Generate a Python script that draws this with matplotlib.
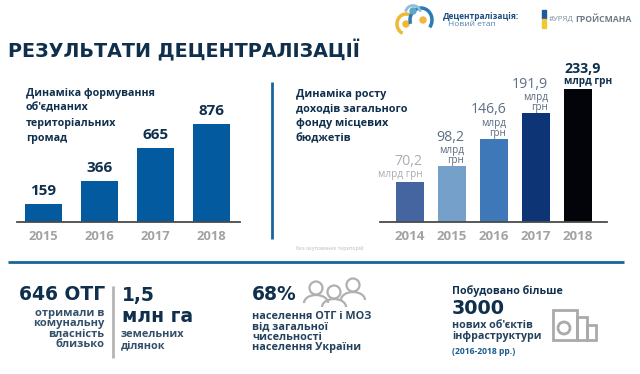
import matplotlib
matplotlib.use("Agg")
import matplotlib.pyplot as plt
from matplotlib.patches import Rectangle, Circle, Arc

plt.rcParams['font.family'] = ['Open Sans', 'DejaVu Sans']

# Дані
roky_otg = ['2015', '2016', '2017', '2018']
otg = [159, 366, 665, 876]

roky_dohody = ['2014', '2015', '2016', '2017', '2018']
dohody = [70.2, 98.2, 146.6, 191.9, 233.9]
dohody_text = ['70,2', '98,2', '146,6', '191,9', '233,9']
dohody_odyn = ['млрд грн', 'млрд\nгрн', 'млрд\nгрн', 'млрд\nгрн', 'млрд грн']
kolory = ['#44659f', '#74a0c9', '#3f78b8', '#0d3474', '#02040a']

NAVY = '#0f2f4d'
BLUE = '#045a9e'
GREY = '#a3a3a3'
LINE = '#16669a'
HEAVY = ['DejaVu Sans']

W, H = 640, 374
fig = plt.figure(figsize=(W / 100, H / 100), dpi=100, facecolor='white')


def px_axes(x0, x1, y_top, y_bottom):
    return fig.add_axes([x0 / W, 1 - y_bottom / H, (x1 - x0) / W, (y_bottom - y_top) / H])


# Полотно в пікселях для написів та іконок
bg = fig.add_axes([0, 0, 1, 1])
bg.set_xlim(0, W)
bg.set_ylim(H, 0)
bg.axis('off')

# ======================
# Ліва діаграма
# ======================
ax1 = px_axes(17, 240, 80, 222)
ax1.patch.set_alpha(0)
ax1.bar(range(4), otg, width=0.66, color=BLUE)
ax1.set_xlim(-0.473, 3.51)
ax1.set_ylim(0, 1268)
ax1.set_xticks(range(4), roky_otg, fontsize=9.4, fontweight='bold', color=GREY)
ax1.set_yticks([])
ax1.tick_params(axis='x', length=0, pad=6)
for s in ['top', 'left', 'right']:
    ax1.spines[s].set_visible(False)
ax1.spines['bottom'].set_color('#4a4a4a')
ax1.spines['bottom'].set_linewidth(1.3)
for i, v in enumerate(otg):
    ax1.annotate(str(v), (i, v), xytext=(0, 4.3), textcoords='offset points', ha='center',
                 va='bottom', fontsize=11, fontweight='bold', color=NAVY)

# ======================
# Права діаграма
# ======================
ax2 = px_axes(380, 607, 60, 222)
ax2.patch.set_alpha(0)
ax2.bar(range(5), dohody, width=0.68, color=kolory)
ax2.set_xlim(-0.714, 4.69)
ax2.set_ylim(0, 162 / 0.5686)
ax2.set_xticks(range(5), roky_dohody, fontsize=9.6, fontweight='bold', color=GREY)
ax2.set_yticks([])
ax2.tick_params(axis='x', length=0, pad=6)
for s in ['top', 'left', 'right']:
    ax2.spines[s].set_visible(False)
ax2.spines['bottom'].set_color('#4a4a4a')
ax2.spines['bottom'].set_linewidth(1.3)

kolir_text = ['#a9adb3', '#5d6f83', '#5d6f83', '#5d6f83', NAVY]
for i, v in enumerate(dohody):
    lines = dohody_odyn[i].count('\n') + 1
    if i == 4:
        ha, dx = 'left', -10
    else:
        ha, dx = 'right', 8.8
    dy = 0 if lines == 2 else 1.5
    bold = 'bold' if i == 4 else 'normal'
    ax2.annotate(dohody_odyn[i], (i, v), xytext=(dx, dy), textcoords='offset points',
                 ha=ha, va='bottom', fontsize=7.2, fontweight=bold, color=kolir_text[i],
                 linespacing=0.85)
    ax2.annotate(dohody_text[i], (i, v), xytext=(dx, dy + lines * 7.4 + 0.5), textcoords='offset points',
                 ha=ha, va='bottom', fontsize=10.2, fontweight=bold, color=kolir_text[i])

# ======================
# Заголовок і підписи
# ======================
bg.text(8, 50, 'РЕЗУЛЬТАТИ ДЕЦЕНТРАЛІЗАЦІЇ', fontsize=13.8, fontweight='bold', family=HEAVY,
        color=NAVY, va='center', ha='left')
# Окремі рядки, щоб блок не наїжджав на підписи стовпців
for k, rjadok in enumerate(['Динаміка формування', 'об\'єднаних', 'територіальних', 'громад']):
    bg.text(26, 93 + k * 15, rjadok, fontsize=7.7, fontweight='bold', color=NAVY, va='center')
for k, rjadok in enumerate(['Динаміка росту', 'доходів загального', 'фонду місцевих', 'бюджетів']):
    bg.text(296, 94 + k * 14.8, rjadok, fontsize=7.8, fontweight='bold', color=NAVY, va='center')
bg.text(296, 248, 'без окупованих територій', fontsize=3.8, color='#b4bcc4', va='center')

# Лінії-розділювачі
bg.plot([272, 272], [82, 239], color=LINE, lw=2, solid_capstyle='butt')
bg.plot([8, 624], [262, 262], color=LINE, lw=2, solid_capstyle='butt')
bg.plot([113, 113], [286, 358], color='#b5b5b5', lw=2, solid_capstyle='butt')

# ======================
# Нижній блок
# ======================
bg.text(105, 295, '646 ОТГ', fontsize=13.5, fontweight='bold', family=HEAVY, color=NAVY, ha='right', va='center')
bg.text(104.5, 329, 'отримали в\nкомунальну\nвласність\nблизько', fontsize=8, fontweight='bold',
        color='#33506b', ha='right', va='center', linespacing=0.92)
bg.text(122, 295, '1,5', fontsize=13.5, fontweight='bold', family=HEAVY, color=NAVY, va='center')
bg.text(122, 316, 'млн га', fontsize=13.5, fontweight='bold', family=HEAVY, color=NAVY, va='center')
bg.text(121, 340, 'земельних\nділянок', fontsize=7.8, fontweight='bold', color='#33506b', va='center',
        linespacing=1.12)

bg.text(252, 295, '68%', fontsize=13.5, fontweight='bold', family=HEAVY, color=NAVY, va='center')
bg.text(252, 332, 'населення ОТГ і МОЗ\nвід загальної\nчисельності\nнаселення України', fontsize=7.8,
        fontweight='bold', color='#24415e', va='center', linespacing=0.92)

bg.text(452, 291, 'Побудовано більше', fontsize=7.7, fontweight='bold', color=NAVY, va='center')
bg.text(452, 308, '3000', fontsize=13.8, fontweight='bold', family=HEAVY, color=NAVY, va='center')
bg.text(452, 331, 'нових об\'єктів\nінфраструктури', fontsize=7.7, fontweight='bold', color='#24415e',
        va='center', linespacing=0.92)
bg.text(452, 352, '(2016-2018 рр.)', fontsize=6.2, fontweight='bold', color='#1b5c8c', va='center')

# Іконка людей
for cx, cy in [(316, 288), (334, 292), (353, 285)]:
    bg.add_patch(Circle((cx, cy), 6.5, fill=False, ec='#b0b0b0', lw=1.6))
    bg.add_patch(Arc((cx, cy + 15), 24, 16, theta1=180, theta2=360, ec='#b0b0b0', lw=1.6))

# Іконка будівель
bg.add_patch(Rectangle((553, 310), 24, 30, fill=False, ec='#aaaaaa', lw=2))
bg.add_patch(Rectangle((577, 317), 10, 23, fill=False, ec='#aaaaaa', lw=2))
bg.add_patch(Rectangle((587, 325), 9, 15, fill=False, ec='#aaaaaa', lw=2))
bg.add_patch(Circle((564, 328), 6, fill=False, ec='#aaaaaa', lw=2))

# ======================
# Логотип і шапка
# ======================
bg.add_patch(Arc((406, 24), 18, 20, theta1=110, theta2=290, ec='#f0b838', lw=2.5))
bg.add_patch(Circle((406, 24), 3, color='#f0b838'))
bg.add_patch(Arc((421, 20), 22, 24, theta1=160, theta2=40, ec='#2c7ab8', lw=2.5))
bg.add_patch(Circle((423, 20), 3, color='#f3b53c'))
bg.add_patch(Circle((413, 11), 3, color='#5ea7c9'))
bg.add_patch(Arc((413, 13), 15, 15, theta1=190, theta2=350, ec='#8cc0d8', lw=2))
bg.text(443, 16, 'Децентралізація:', fontsize=6, fontweight='bold', color='#1d4f80', va='center')
bg.text(448, 24, 'Новий етап', fontsize=6, color='#4f86b0', va='center')
bg.add_patch(Rectangle((542, 10), 3.5, 9, color='#1e5aa0'))
bg.add_patch(Rectangle((542, 19), 3.5, 9, color='#f2c832'))
bg.text(549, 19, '#УРЯД', fontsize=5.6, color='#7d8d9b', va='center')
bg.text(575, 19, 'ГРОЙСМАНА', fontsize=6.2, fontweight='bold', color='#6f7b86', va='center')

fig.savefig('out.png', dpi=100)
